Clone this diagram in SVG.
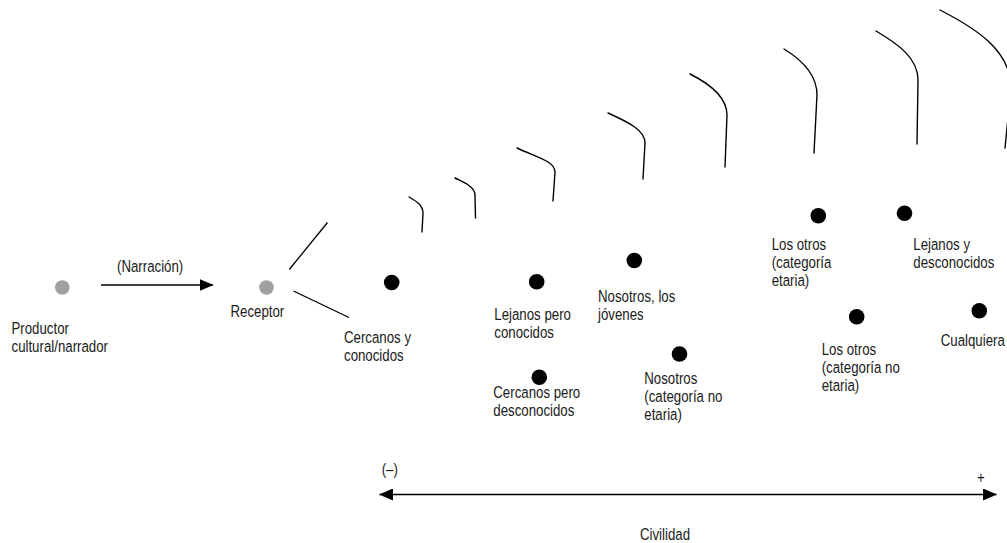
<svg xmlns="http://www.w3.org/2000/svg" width="1007" height="543" viewBox="0 0 1007 543">
<defs>
<style>
text{font-family:"Liberation Sans",Arial,sans-serif;font-size:17px;fill:#1a1a1a}
.dot{fill:#000}
.gdot{fill:#a0a0a0}
.ln{stroke:#000;stroke-width:1.3;fill:none}
.arc{stroke:#000;stroke-width:1.4;fill:none;stroke-linecap:round}
</style>
<marker id="ah" viewBox="0 0 14 12" refX="13.5" refY="6" markerWidth="14" markerHeight="12" markerUnits="userSpaceOnUse" orient="auto-start-reverse">
<path d="M0,0 L14,6 L0,12 Z" fill="#000"/>
</marker>
</defs>
<rect width="1007" height="543" fill="#fff"/>

<g id="connectors">
<line class="ln" x1="101" y1="285" x2="213" y2="285" marker-end="url(#ah)"/>
<line class="ln" x1="289.3" y1="269.5" x2="327.5" y2="222.5"/>
<line class="ln" x1="293.5" y1="291" x2="349" y2="317.5"/>
<line class="ln" x1="379.5" y1="494.5" x2="996.5" y2="494.5" marker-start="url(#ah)" marker-end="url(#ah)"/>
</g>

<g id="arcs">
<path class="arc" d="M409,197 C416,201 423,205 423,213 L422,232"/>
<path class="arc" d="M455,178 C465,183 475,187 475,195 L475.5,218"/>
<path class="arc" d="M517,148 C536,157 555,161 555,172 L553,201"/>
<path class="arc" d="M608,113 C628,122 645,130 645,143 L643,179"/>
<path class="arc" d="M690,74 C710,84 727,97 727,115 L725,167"/>
<path class="arc" d="M784,49 C802,60 817,74 817,95 L814,153"/>
<path class="arc" d="M876,31 C898,44 918,58 918,80 L917,144"/>
<path class="arc" d="M940,10 C975,28 1011,50 1011,88 L1005,148"/>
</g>

<g id="node-productor">
<circle class="gdot" cx="62.3" cy="287.5" r="7.3"/>
<text transform="translate(11.5 334) scale(0.78 1)"><tspan x="0" y="0">Productor</tspan><tspan x="0" y="18">cultural/narrador</tspan></text>
</g>
<g id="label-narracion">
<text transform="translate(117 272) scale(0.78 1)">(Narración)</text>
</g>
<g id="node-receptor">
<circle class="gdot" cx="266.5" cy="287.5" r="7.3"/>
<text transform="translate(230.5 317) scale(0.78 1)">Receptor</text>
</g>
<g id="node-cercanos-conocidos">
<circle class="dot" cx="391.7" cy="282.5" r="7.8"/>
<text transform="translate(344 343) scale(0.78 1)"><tspan x="0" y="0">Cercanos y</tspan><tspan x="0" y="18">conocidos</tspan></text>
</g>
<g id="node-lejanos-conocidos">
<circle class="dot" cx="536.7" cy="281.7" r="7.8"/>
<text transform="translate(494.3 320) scale(0.78 1)"><tspan x="0" y="0">Lejanos pero</tspan><tspan x="0" y="18">conocidos</tspan></text>
</g>
<g id="node-cercanos-desconocidos">
<circle class="dot" cx="539.3" cy="377.3" r="7.8"/>
<text transform="translate(493.3 398) scale(0.78 1)"><tspan x="0" y="0">Cercanos pero</tspan><tspan x="0" y="18">desconocidos</tspan></text>
</g>
<g id="node-nosotros-jovenes">
<circle class="dot" cx="634.3" cy="260.5" r="7.8"/>
<text transform="translate(598 302) scale(0.78 1)"><tspan x="0" y="0">Nosotros, los</tspan><tspan x="0" y="18">jóvenes</tspan></text>
</g>
<g id="node-nosotros-no-etaria">
<circle class="dot" cx="679.5" cy="354" r="7.8"/>
<text transform="translate(644.3 384) scale(0.78 1)"><tspan x="0" y="0">Nosotros</tspan><tspan x="0" y="18">(categoría no</tspan><tspan x="0" y="36">etaria)</tspan></text>
</g>
<g id="node-otros-etaria">
<circle class="dot" cx="818.3" cy="215.7" r="7.8"/>
<text transform="translate(771.7 250) scale(0.78 1)"><tspan x="0" y="0">Los otros</tspan><tspan x="0" y="18">(categoría</tspan><tspan x="0" y="36">etaria)</tspan></text>
</g>
<g id="node-lejanos-desconocidos">
<circle class="dot" cx="904.5" cy="213.3" r="7.8"/>
<text transform="translate(913.3 250) scale(0.78 1)"><tspan x="0" y="0">Lejanos y</tspan><tspan x="0" y="18">desconocidos</tspan></text>
</g>
<g id="node-otros-no-etaria">
<circle class="dot" cx="856.7" cy="316.7" r="7.8"/>
<text transform="translate(821.7 355) scale(0.78 1)"><tspan x="0" y="0">Los otros</tspan><tspan x="0" y="18">(categoría no</tspan><tspan x="0" y="36">etaria)</tspan></text>
</g>
<g id="node-cualquiera">
<circle class="dot" cx="979.3" cy="310.7" r="7.8"/>
<text transform="translate(940.7 346) scale(0.78 1)">Cualquiera</text>
</g>
<g id="axis-labels">
<text transform="translate(381.7 475) scale(0.78 1)">(–)</text>
<text transform="translate(977 483) scale(0.78 1)">+</text>
<text transform="translate(665 540) scale(0.78 1)" text-anchor="middle">Civilidad</text>
</g>
</svg>
